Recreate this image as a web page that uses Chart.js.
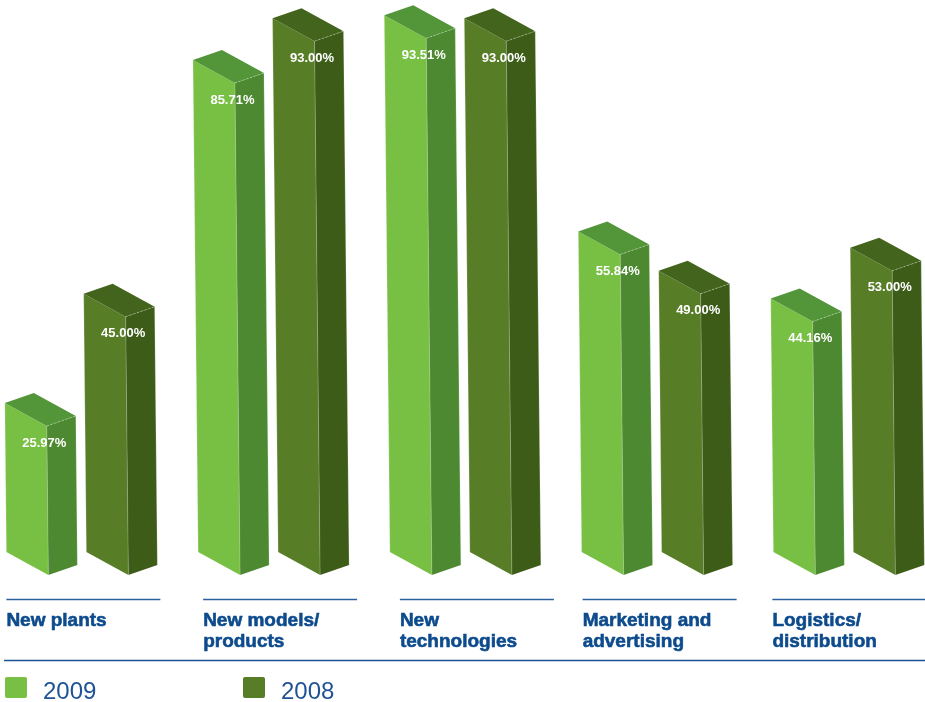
<!DOCTYPE html>
<html>
<head>
<meta charset="utf-8">
<script src="https://cdn.jsdelivr.net/npm/chart.js@4.4.0/dist/chart.umd.min.js"></script>
<style>
  html, body { margin: 0; padding: 0; background: #fff; overflow: hidden; }
  #wrap { position: absolute; left: -40px; top: 0; width: 975px; height: 702px; }
</style>
</head>
<body>
<div id="wrap"><canvas id="chart" width="975" height="702"></canvas></div>
<script>
// investment focus by area, share of answers in percent
const categories = [
  ["New plants"],
  ["New models/", "products"],
  ["New", "technologies"],
  ["Marketing and", "advertising"],
  ["Logistics/", "distribution"]
];
const values2009 = [25.97, 85.71, 93.51, 55.84, 44.16];
const values2008 = [45.0, 93.0, 93.0, 49.0, 53.0];
const seriesNames = ["2009", "2008"];

const SHIFT = 40; // canvas sits 40px left of the page edge
const FRONT_W = 42, FRONT_DY = 23; // front face width and slope
const SIDE_W = 29, SIDE_DY = -10;  // depth of the box
const LEAN = 0.0105;               // bars lean slightly left going up
const labelNudge = [0, 5, 10, 1, -1];

const faces = [
  { front: "#78c044", side: "#4c8930", top: "#539539" },
  { front: "#577d27", side: "#3d5c18", top: "#43641c" }
];

function poly(ctx, pts, fill) {
  ctx.beginPath();
  ctx.moveTo(pts[0][0], pts[0][1]);
  for (let k = 1; k < pts.length; k++) ctx.lineTo(pts[k][0], pts[k][1]);
  ctx.closePath();
  ctx.fillStyle = fill;
  ctx.fill();
}

const boxes = {
  id: "boxes",
  afterDatasetsDraw(chart) {
    const ctx = chart.ctx;
    ctx.save();
    chart.data.datasets.forEach((ds, di) => {
      const meta = chart.getDatasetMeta(di);
      const c = faces[di];
      meta.data.forEach((bar, i) => {
        const p = bar.getProps(["x", "y", "base", "width"], true);
        const xl = p.x - p.width / 2;
        const h = p.base - p.y;
        const s = -h * LEAN;
        const A = [xl + s, p.y];
        const B = [xl + s + FRONT_W, p.y + FRONT_DY];
        const C = [xl + FRONT_W, p.base + FRONT_DY];
        const D = [xl, p.base];
        const E = [B[0] + SIDE_W, B[1] + SIDE_DY];
        const F = [C[0] + SIDE_W, C[1] + SIDE_DY];
        const G = [A[0] + SIDE_W, A[1] + SIDE_DY];
        poly(ctx, [A, B, C, D], c.front);
        poly(ctx, [B, E, F, C], c.side);
        poly(ctx, [A, B, E, G], c.top);

        // soft highlight edges
        ctx.lineWidth = 1;
        ctx.strokeStyle = "rgba(255,255,255,0.22)";
        ctx.beginPath();
        ctx.moveTo(B[0], B[1]); ctx.lineTo(C[0], C[1]);
        ctx.moveTo(E[0], E[1]); ctx.lineTo(F[0], F[1]);
        ctx.moveTo(A[0], A[1]); ctx.lineTo(D[0], D[1]);
        ctx.stroke();
        ctx.setLineDash([2, 2]);
        ctx.strokeStyle = "rgba(255,255,255,0.35)";
        ctx.beginPath();
        ctx.moveTo(B[0], B[1]); ctx.lineTo(E[0], E[1]);
        ctx.stroke();
        ctx.setLineDash([]);

        // value label
        ctx.fillStyle = "#ffffff";
        ctx.font = "bold 13px 'Liberation Sans', Arial, sans-serif";
        ctx.textAlign = "center";
        ctx.textBaseline = "middle";
        ctx.fillText(ds.data[i].toFixed(2) + "%", A[0] + 39.5, p.y + 40);
      });
    });
    ctx.restore();
  },
  afterDraw(chart) {
    const ctx = chart.ctx;
    const first = chart.getDatasetMeta(0);
    ctx.save();
    // category labels with rules above
    chart.data.labels.forEach((lines, i) => {
      const bar = first.data[i];
      const lx = bar.x - bar.width / 2 + labelNudge[i];
      ctx.strokeStyle = "#2c5f9e";
      ctx.lineWidth = 1.3;
      ctx.beginPath();
      ctx.moveTo(lx, 599.5);
      ctx.lineTo(Math.min(lx + 154, chart.width), 599.5);
      ctx.stroke();
      ctx.fillStyle = "#0d4b8d";
      ctx.strokeStyle = "#0d4b8d";
      ctx.lineWidth = 0.6;
      ctx.font = "bold 19px 'Liberation Sans', Arial, sans-serif";
      ctx.textAlign = "left";
      ctx.textBaseline = "alphabetic";
      lines.forEach((t, k) => {
        ctx.fillText(t, lx, 626 + k * 21);
        ctx.strokeText(t, lx, 626 + k * 21);
      });
    });
    // baseline under the labels
    ctx.strokeStyle = "#1a5193";
    ctx.lineWidth = 1.5;
    ctx.beginPath();
    ctx.moveTo(SHIFT + 4, 660.5);
    ctx.lineTo(chart.width, 660.5);
    ctx.stroke();
    // legend
    const legendX = [5, 243];
    seriesNames.forEach((name, k) => {
      const x = SHIFT + legendX[k];
      ctx.fillStyle = faces[k].front;
      ctx.beginPath();
      ctx.roundRect(x, 677, 22, 21, 2);
      ctx.fill();
      ctx.fillStyle = "#1f5395";
      ctx.font = "24px 'Liberation Sans', Arial, sans-serif";
      ctx.textAlign = "left";
      ctx.textBaseline = "alphabetic";
      ctx.fillText(name, x + 38, 699);
    });
    ctx.restore();
  }
};

new Chart(document.getElementById("chart"), {
  type: "bar",
  data: {
    labels: categories,
    datasets: [
      { label: seriesNames[0], data: values2009, backgroundColor: "rgba(0,0,0,0)" },
      { label: seriesNames[1], data: values2008, backgroundColor: "rgba(0,0,0,0)" }
    ]
  },
  options: {
    responsive: false,
    animation: false,
    layout: { padding: { left: 11.5, right: 4.75, top: 0.96, bottom: 150 } },
    categoryPercentage: 160 / 191.75,
    barPercentage: 0.525,
    plugins: { legend: { display: false }, tooltip: { enabled: false } },
    scales: {
      x: { display: false },
      y: { display: false, min: 0, max: 96 }
    }
  },
  plugins: [boxes]
});
</script>
</body>
</html>
